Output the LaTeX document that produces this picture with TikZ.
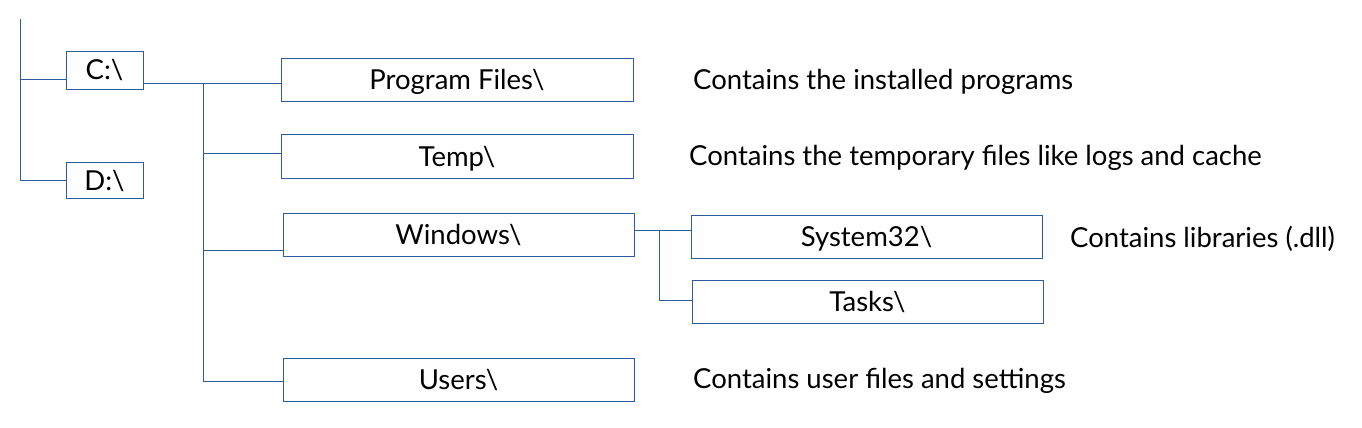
\documentclass[tikz,border=0pt]{standalone}
\usepackage{fontspec}
\setmainfont{Lato}
\definecolor{lineblue}{RGB}{46,92,158}
\begin{document}
\begin{tikzpicture}[x=1pt,y=-1pt,
  conn/.style={draw=lineblue,line width=0.9pt},
  folder/.style={draw=lineblue,line width=0.9pt,rectangle,inner sep=0pt,
    text height=20pt,text depth=0pt,font=\fontsize{27.5}{30}\selectfont},
  desc/.style={anchor=base west,inner sep=0pt,font=\fontsize{27.5}{30}\selectfont}]
\useasboundingbox (0,0) rectangle (1362,428);
% boxes
\node[folder,minimum width=77pt,minimum height=38pt] (C) at (104.5,70) {C:\textbackslash};
\node[folder,minimum width=77pt,minimum height=36pt] (D) at (104.5,180) {D:\textbackslash};
\node[folder,minimum width=352pt,minimum height=43pt] (PF) at (457,79.5) {Program Files\textbackslash};
\node[folder,minimum width=352pt,minimum height=44pt] (Temp) at (457,156) {Temp\textbackslash};
\node[folder,minimum width=351pt,minimum height=43pt] (Win) at (458.5,234.5) {Windows\textbackslash};
\node[folder,minimum width=351pt,minimum height=43pt] (Sys) at (866.5,236.5) {System32\textbackslash};
\node[folder,minimum width=351pt,minimum height=43pt] (Tasks) at (867.5,301.5) {Tasks\textbackslash};
\node[folder,minimum width=351pt,minimum height=43pt] (Users) at (458.5,379.5) {Users\textbackslash};
% descriptions
\node[desc] (dPF) at (693,89) {Contains the installed programs};
\node[desc] (dTemp) at (689,165) {Contains the temporary files like logs and cache};
\node[desc] (dSys) at (1070,247) {Contains libraries (.dll)};
\node[desc] (dUsers) at (693,388) {Contains user files and settings};
% root connectors
\coordinate (rootTop) at (20,19);
\draw[conn] (rootTop) |- (D.west);
\draw[conn] (rootTop |- 0,79) -- (C.west |- 0,79);
% C trunk
\coordinate (trunk) at (203,83);
\draw[conn] (C.east |- trunk) -- (PF.west |- trunk);
\draw[conn] (trunk) -- (203,381) -- (Users.west |- 0,381);
\draw[conn] (203,153) -- (Temp.west |- 0,153);
\draw[conn] (203,250) -- (Win.west |- 0,250);
% Windows subtree
\coordinate (wbr) at (659,230);
\draw[conn] (Win.east |- wbr) -- (Sys.west |- wbr);
\draw[conn] (wbr) |- (Tasks.west |- 0,300);
\end{tikzpicture}
\end{document}
